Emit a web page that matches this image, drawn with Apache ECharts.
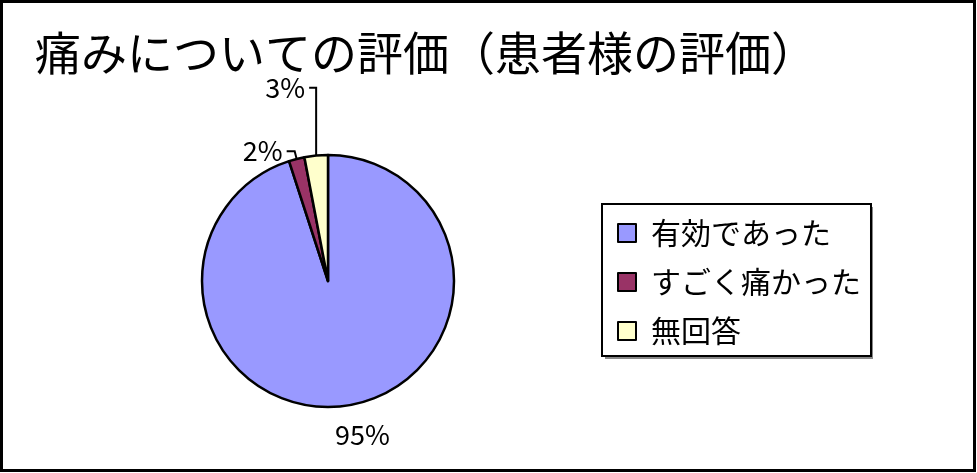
<!DOCTYPE html>
<html>
<head>
    <meta charset="utf-8">
    <script src="https://cdn.jsdelivr.net/npm/echarts@6.0.0/dist/echarts.min.js"></script>
</head>
<style type="text/css">
    body { margin: 0; background: #fff; }
</style>
<body>
<div style="width: 977px;height: 473px;" id="chart"></div>
<script>

let chart = echarts.init(document.getElementById('chart'));

// 回答項目と割合(%)
let categories = ['有効であった', 'すごく痛かった', '無回答'];
let values = [95, 2, 3];
let colors = ['#9999FF', '#993366', '#FFFFCC'];

let font = '"Noto Sans CJK JP", "Noto Sans", sans-serif';

// ラベル線の長さ（項目ごと）
let lineLen = [[30, 0], [8, 8], [68, 6]];

let data = categories.map((name, i) => ({
    name: name,
    value: values[i],
    itemStyle: {color: colors[i]},
    labelLine: {show: i !== 0, length: lineLen[i][0], length2: lineLen[i][1]}
}));

let option = {
    animation: false,
    backgroundColor: '#fff',
    title: {
        text: '痛みについての評価（患者様の評価）',
        left: 35,
        top: 30,
        padding: 0,
        textStyle: {
            fontFamily: font,
            fontSize: 46,
            fontWeight: 'normal',
            color: '#000'
        }
    },
    legend: {
        orient: 'vertical',
        left: 602,
        top: 204,
        padding: [14, 10, 10, 15],
        itemWidth: 18,
        itemHeight: 18,
        itemGap: 19,
        icon: 'rect',
        selectedMode: false,
        borderColor: '#000',
        borderWidth: 2,
        backgroundColor: '#fff',
        textStyle: {
            fontFamily: font,
            fontSize: 30,
            lineHeight: 30,
            color: '#000',
            padding: [0, 0, 0, 10]
        },
        data: categories
    },
    graphic: [{
        // 凡例の影
        type: 'rect',
        silent: true,
        z: 0,
        shape: {x: 605, y: 207, width: 268, height: 152},
        style: {fill: '#888'}
    }, {
        type: 'rect',
        silent: true,
        z: 100,
        shape: {x: 1.5, y: 1.5, width: 973, height: 469},
        style: {fill: 'none', stroke: '#000', lineWidth: 3}
    }],
    series: [{
        type: 'pie',
        center: [328, 281],
        radius: 126,
        startAngle: 90,
        clockwise: true,
        avoidLabelOverlap: false,
        itemStyle: {
            borderColor: '#000',
            borderWidth: 2.5
        },
        label: {
            show: true,
            position: 'outside',
            formatter: '{c}%',
            fontFamily: font,
            fontSize: 27,
            color: '#000',
            distanceToLabelLine: 4
        },
        labelLine: {
            lineStyle: {color: '#000', width: 2}
        },
        labelLayout: function (params) {
            let pts = params.labelLinePoints;
            if (params.dataIndex === 0) {
                return {align: 'center', dx: 6};
            }
            if (params.dataIndex === 2 && pts) {
                // 縦に立ち上げるリーダー線
                let p0 = pts[0];
                let p1 = [p0[0], pts[1][1]];
                let p2 = [p0[0] - 7, pts[1][1]];
                return {
                    labelLinePoints: [p0, p1, p2],
                    x: p2[0] - 4,
                    y: p2[1],
                    align: 'right',
                    verticalAlign: 'middle'
                };
            }
            return {};
        },
        data: data
    }]
};

chart.setOption(option);

</script>
</body>
</html>
